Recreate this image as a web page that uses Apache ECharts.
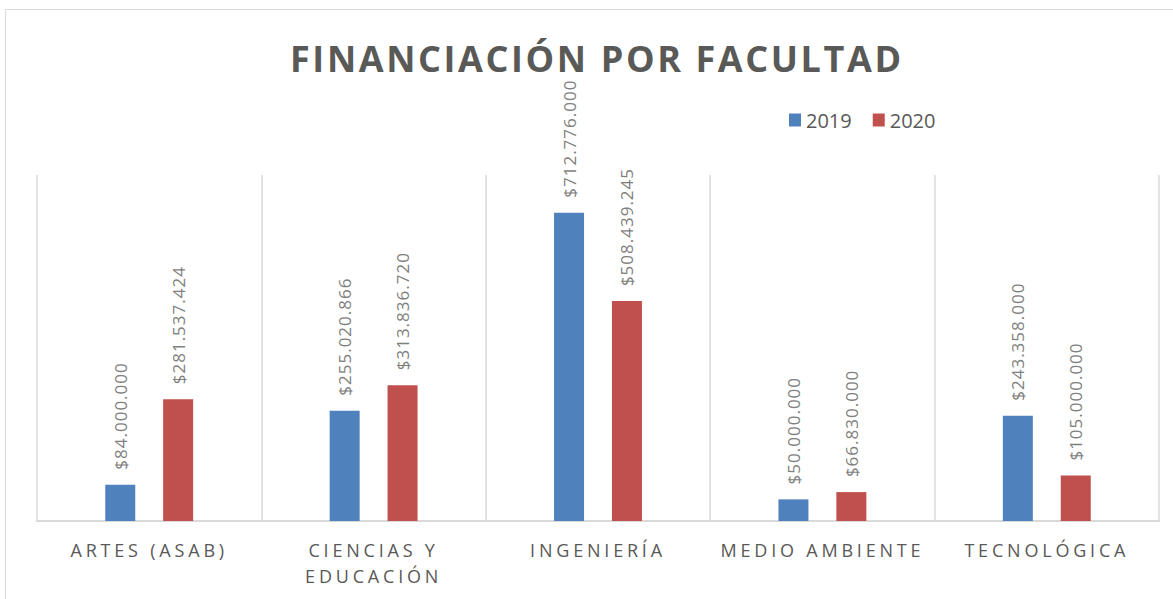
<!DOCTYPE html>
<html>
<head>
<meta charset="utf-8">
<script src="https://cdn.jsdelivr.net/npm/echarts@6/dist/echarts.min.js"></script>
<style>
  html, body { margin: 0; padding: 0; background: #fff; }
  #main { width: 1173px; height: 599px; }
  /* ECharts has no letter-spacing option; the SVG renderer lets CSS add it */
  #main text[fill="#595958"] { letter-spacing: 3.8px; }
  #main text[fill="#595957"] { letter-spacing: 2.6px; }
  #main text[fill="#7f7f7e"] { letter-spacing: 1px; }
</style>
</head>
<body>
<div id="main"></div>
<script>
var facultades = ["ARTES (ASAB)", "CIENCIAS Y\nEDUCACIÓN", "INGENIERÍA", "MEDIO AMBIENTE", "TECNOLÓGICA"];
var valores2019 = [84000000, 255020866, 712776000, 50000000, 243358000];
var valores2020 = [281537424, 313836720, 508439245, 66830000, 105000000];

var dom = document.getElementById("main");
var chart = echarts.init(dom, null, { renderer: "svg" });

function pesos(v) {
  return "$" + String(v).replace(/\B(?=(\d{3})+(?!\d))/g, ".");
}

var barLabel = {
  show: true,
  position: "top",
  rotate: 90,
  align: "left",
  verticalAlign: "middle",
  distance: 15,
  color: "#7f7f7e",
  fontFamily: "Open Sans",
  fontSize: 17,
  formatter: function (p) {
    return pesos(p.value);
  },
};

chart.setOption({
  animation: false,
  title: {
    text: "FINANCIACIÓN POR FACULTAD",
    left: 290,
    top: 40,
    padding: 0,
    textStyle: {
      color: "#595957",
      fontFamily: "Open Sans",
      fontWeight: "bold",
      fontSize: 36,
    },
  },
  legend: {
    left: 789,
    top: 110,
    padding: 0,
    itemWidth: 12,
    itemHeight: 13,
    itemGap: 21,
    icon: "rect",
    textStyle: { color: "#595959", fontFamily: "Open Sans", fontSize: 20 },
    data: ["2019", "2020"],
  },
  graphic: [
    {
      type: "rect",
      shape: { x: 5.5, y: 9.5, width: 1200, height: 620 },
      style: { fill: "none", stroke: "#d9d9d9", lineWidth: 1 },
      silent: true,
    },
  ],
  grid: { left: 37, right: 14, top: 175, bottom: 78 },
  xAxis: {
    type: "category",
    data: facultades,
    axisLine: { lineStyle: { color: "#d9d9d9", width: 2 } },
    axisTick: { show: false },
    splitLine: { show: true, lineStyle: { color: "#d9d9d9", width: 1.5 } },
    axisLabel: {
      color: "#595958",
      fontFamily: "Open Sans",
      fontSize: 18,
      margin: 16,
      lineHeight: 26,
      interval: 0,
    },
  },
  yAxis: {
    type: "value",
    min: 0,
    max: 800000000,
    show: false,
  },
  series: [
    {
      name: "2019",
      type: "bar",
      data: valores2019,
      barWidth: 30,
      barGap: "93%",
      itemStyle: { color: "#4f81bd" },
      label: barLabel,
    },
    {
      name: "2020",
      type: "bar",
      data: valores2020,
      barWidth: 30,
      itemStyle: { color: "#c0504d" },
      label: barLabel,
    },
  ],
});
</script>
</body>
</html>
